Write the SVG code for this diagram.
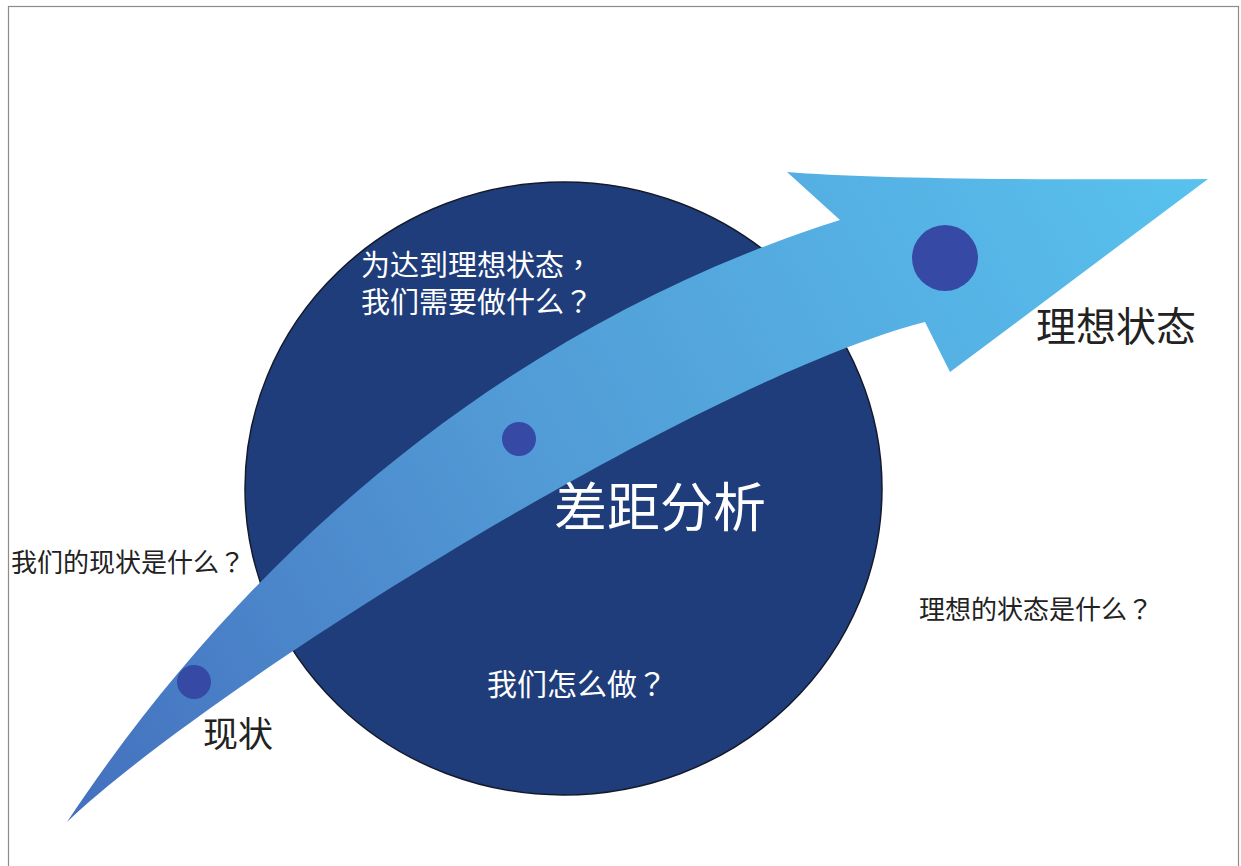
<svg xmlns="http://www.w3.org/2000/svg" width="1241" height="866" viewBox="0 0 1241 866">
  <defs>
    <linearGradient id="arrowGrad" gradientUnits="userSpaceOnUse" x1="67" y1="822" x2="1208" y2="179">
      <stop offset="0" stop-color="#4470be"/>
      <stop offset="0.45" stop-color="#529bd6"/>
      <stop offset="1" stop-color="#58c2ee"/>
    </linearGradient>
  </defs>
  <style>
    .lbl { font-family: "Noto Sans CJK SC", "Noto Sans", sans-serif; }
    .punct { font-family: "Noto Sans CJK TC", "Noto Sans CJK SC", sans-serif; }
    .white { fill: #ffffff; }
    .dark { fill: #222222; }
    .dot { fill: #3549a5; }
  </style>
  <rect x="0" y="0" width="1241" height="866" fill="#ffffff"/>
  <rect x="8.5" y="6.5" width="1230" height="880" fill="none" stroke="#8c8c8c" stroke-width="1.2"/>

  <g id="gap-circle">
    <ellipse cx="563.5" cy="488.5" rx="318.5" ry="306.5" fill="#1f3d7b" stroke="#141a2c" stroke-width="1.5"/>
  </g>

  <g id="connectors">
    <path id="main-arrow" fill="url(#arrowGrad)"
      d="M67,822 C276,507 555,310 840,220 L787,172 Q900,181 1208,179 L950,372 L925,322 C700,380 212,684 67,822 Z"/>
  </g>

  <g id="node-current">
    <circle class="dot" cx="194" cy="682" r="17"/>
    <text class="lbl dark" x="203" y="747" font-size="35">现状</text>
  </g>

  <g id="node-gap">
    <circle class="dot" cx="519" cy="439" r="17"/>
    <text class="lbl white" x="554" y="527" font-size="53">差距分析</text>
  </g>

  <g id="node-ideal">
    <circle class="dot" cx="945" cy="258" r="33"/>
    <text class="lbl dark" x="1036" y="341" font-size="40">理想状态</text>
  </g>

  <g id="q-need">
    <text class="lbl white" font-size="29"><tspan x="361" y="276">为达到理想状态<tspan class="punct">，</tspan></tspan><tspan x="361" y="313">我们需要做什么<tspan class="punct">？</tspan></tspan></text>
  </g>

  <g id="q-how">
    <text class="lbl white" x="487" y="695" font-size="30">我们怎么做<tspan class="punct">？</tspan></text>
  </g>

  <g id="q-current">
    <text class="lbl dark" x="11" y="572" font-size="26">我们的现状是什么<tspan class="punct">？</tspan></text>
  </g>

  <g id="q-ideal">
    <text class="lbl dark" x="919" y="619" font-size="26">理想的状态是什么<tspan class="punct">？</tspan></text>
  </g>
</svg>
